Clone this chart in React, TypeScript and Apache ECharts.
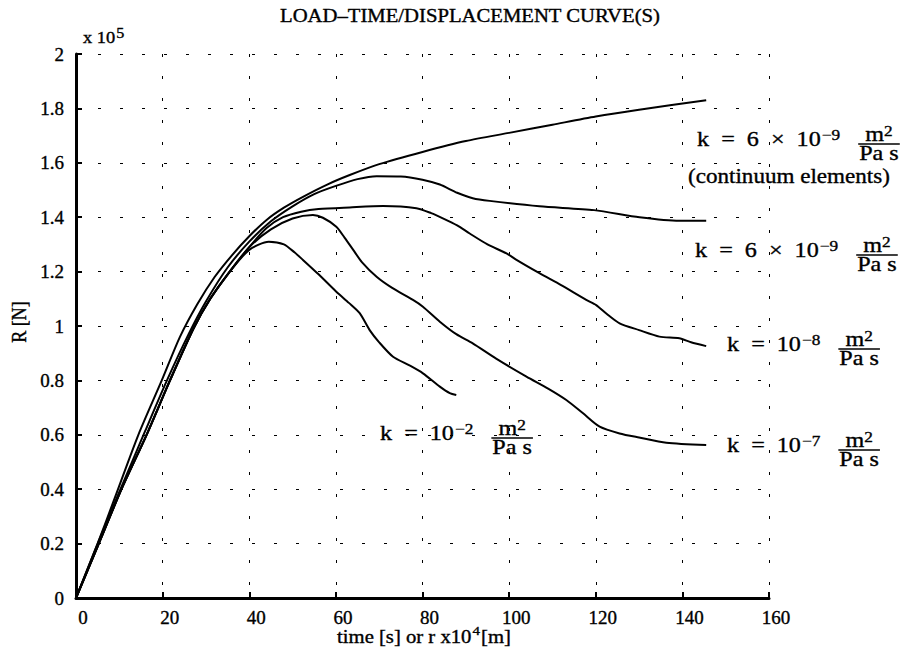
import React, { useEffect, useRef } from "react";
import * as echarts from "echarts";

// ---- data (R in units of 1e5 N, x = time [s] or r x1e4 [m]) ----
const xTicks = [0, 20, 40, 60, 80, 100, 120, 140, 160];
const yTicks = [0, 0.2, 0.4, 0.6, 0.8, 1, 1.2, 1.4, 1.6, 1.8, 2];

const contX = [0, 5, 9, 14.4, 19.8, 24, 28, 32, 36, 40, 44, 48, 52.4, 58, 63.2, 70, 80, 90, 100, 110, 120, 130, 145.5];
const contY = [0, 0.2, 0.37, 0.6, 0.8, 0.96, 1.08, 1.18, 1.26, 1.33, 1.39, 1.435, 1.475, 1.52, 1.555, 1.595, 1.64, 1.68, 1.71, 1.74, 1.77, 1.795, 1.83];

const k69X = [0, 5, 10, 16, 21, 26, 30, 35, 40, 45, 50, 55, 60, 65, 69.4, 75, 80, 84, 88, 91.6, 95.5, 107, 119.6, 130.1, 139.3, 145.5];
const k69Y = [0, 0.2, 0.39, 0.615, 0.8, 0.97, 1.09, 1.215, 1.31, 1.385, 1.44, 1.485, 1.515, 1.54, 1.551, 1.55, 1.538, 1.52, 1.49, 1.47, 1.46, 1.44, 1.426, 1.4, 1.387, 1.387];

const k8X = [0, 5, 10.5, 16.3, 21.7, 27.1, 31, 35.5, 40, 44, 47.8, 52, 56, 63.2, 70.9, 78.6, 82, 84.7, 88, 90.9, 95, 99.4, 101.7, 107, 112, 117.8, 120.1, 122.5, 125.5, 130, 134.7, 139.3, 142, 145.5];
const k8Y = [0, 0.19, 0.4, 0.6, 0.8, 0.99, 1.1, 1.2, 1.29, 1.36, 1.4, 1.42, 1.43, 1.436, 1.441, 1.433, 1.415, 1.396, 1.37, 1.34, 1.3, 1.267, 1.243, 1.194, 1.15, 1.096, 1.077, 1.045, 1.01, 0.985, 0.961, 0.955, 0.94, 0.926];

const k7X = [0, 5, 10.5, 16.3, 21.7, 27.1, 31, 35.5, 40, 45, 50, 54.7, 57, 60.1, 62, 64, 66, 69.4, 73, 77.8, 80.1, 84, 87.8, 91.6, 97, 104, 109, 113.2, 117, 120.9, 125.5, 130, 136.3, 145.5];
const k7Y = [0, 0.19, 0.4, 0.6, 0.8, 0.99, 1.1, 1.2, 1.29, 1.355, 1.395, 1.408, 1.398, 1.365, 1.325, 1.28, 1.235, 1.181, 1.14, 1.096, 1.071, 1.016, 0.97, 0.936, 0.88, 0.814, 0.77, 0.728, 0.68, 0.63, 0.605, 0.59, 0.571, 0.5625];

const k2X = [0, 5, 10.5, 16.3, 21.7, 27.1, 31, 35.5, 40, 44.5, 48, 50.5, 52.4, 56, 60.1, 63, 65.5, 67.8, 70, 73.2, 77, 80.1, 84, 86.3, 87.8];
const k2Y = [0, 0.19, 0.4, 0.6, 0.8, 0.99, 1.1, 1.2, 1.28, 1.31, 1.3, 1.27, 1.243, 1.19, 1.126, 1.085, 1.047, 0.985, 0.94, 0.887, 0.855, 0.826, 0.777, 0.753, 0.746];

const seriesDefs = [
  { name: "k = 6e-9 (continuum elements)", xs: contX, ys: contY },
  { name: "k = 6e-9", xs: k69X, ys: k69Y },
  { name: "k = 1e-8", xs: k8X, ys: k8Y },
  { name: "k = 1e-7", xs: k7X, ys: k7Y },
  { name: "k = 1e-2", xs: k2X, ys: k2Y },
];

const FONT = "Liberation Serif, Times New Roman, serif";
const S = 1.15;

export default function App() {
  const ref = useRef<HTMLDivElement>(null);
  useEffect(() => {
    const cv = document.createElement("canvas").getContext("2d")!;
    const tw = (t: string, size: number) => {
      cv.font = `${size}px ${FONT}`;
      return cv.measureText(t).width * S;
    };
    const txt = (text: string, x: number, y: number, size: number, align = "left", sx = S) => ({
      type: "text",
      x,
      y,
      scaleX: sx,
      silent: true,
      style: {
        text,
        fontSize: size,
        fontFamily: FONT,
        fill: "#000",
        stroke: "#000",
        lineWidth: 0.35,
        align,
        verticalAlign: "middle",
      },
    });

    const kLabel = (kx: number, bar: number, main: string, exp: string) => {
      const F = 21;
      const FS = 15;
      const supX = kx + tw(main, F) + 1;
      const fx = supX + tw(exp, FS) + 18;
      const numW = tw("m", F) + tw("2", FS);
      const denW = tw("Pa s", F);
      const bw = Math.max(numW, denW) + 2;
      const nx = fx + (bw - numW) / 2;
      return [
        txt(main, kx, bar - 5, F),
        txt(exp, supX, bar - 9.5, FS),
        txt("m", nx, bar - 9.5, F),
        txt("2", nx + tw("m", F), bar - 13, FS),
        { type: "line", silent: true, shape: { x1: fx, y1: bar, x2: fx + bw, y2: bar }, style: { stroke: "#000", lineWidth: 1.3 } },
        txt("Pa s", fx + (bw - denW) / 2, bar + 9.5, F),
      ];
    };

    const xnMain = "time [s] or r x10";
    const xnTotal = tw(xnMain, 18) + tw("4", 13) + tw("[m]", 18);
    const xnStart = 423 - xnTotal / 2;

    const graphics: any[] = [
      txt("LOAD–TIME/DISPLACEMENT CURVE(S)", 470, 16, 18, "center"),
      txt("x 10", 83, 37.5, 16),
      txt("5", 83 + tw("x 10", 16) + 1, 33, 14),
      {
        type: "text",
        x: 19,
        y: 322,
        rotation: Math.PI / 2,
        scaleY: S,
        silent: true,
        style: { text: "R [N]", fontSize: 18, fontFamily: FONT, fill: "#000", stroke: "#000", lineWidth: 0.35, align: "center", verticalAlign: "middle" },
      },
      txt(xnMain, xnStart, 637, 18),
      txt("4", xnStart + tw(xnMain, 18) + 1, 631, 13),
      txt("[m]", xnStart + tw(xnMain, 18) + tw("4", 13) + 2, 637, 18),
      ...kLabel(697, 144, "k  =  6  ×  10", "−9"),
      txt("(continuum elements)", 688, 176, 21, "left", 1.1),
      ...kLabel(695, 255, "k  =  6  ×  10", "−9"),
      ...kLabel(727, 349, "k  =  10", "−8"),
      ...kLabel(727, 450, "k  =  10", "−7"),
      ...kLabel(380, 438, "k  =  10", "−2"),
    ];

    const chart = echarts.init(ref.current!, null, { renderer: "svg" });
    const dashed = { color: "#000", width: 1, type: [3, 19] as any };
    const labelStyle = {
      color: "#000",
      fontFamily: FONT,
      fontSize: 19,
      textBorderColor: "#000",
      textBorderWidth: 0.35,
    };
    const option: any = {
      animation: false,
      backgroundColor: "#fff",
      textStyle: { fontFamily: FONT },
      grid: { left: 76, top: 54, right: 141, bottom: 55, containLabel: false, outerBoundsMode: "none" },
      xAxis: {
        type: "value",
        min: xTicks[0],
        max: xTicks[xTicks.length - 1],
        interval: xTicks[1] - xTicks[0],
        axisLine: { show: true, onZero: false, lineStyle: { color: "#000", width: 3 } },
        axisTick: { show: true, inside: true, length: 6, lineStyle: { color: "#000", width: 2 } },
        axisLabel: { ...labelStyle, margin: 10, padding: [0, 0, 0, 14] },
        splitLine: { show: true, showMinLine: false, showMaxLine: true, lineStyle: dashed },
      },
      yAxis: {
        type: "value",
        min: yTicks[0],
        max: yTicks[yTicks.length - 1],
        interval: yTicks[1] - yTicks[0],
        axisLine: { show: true, onZero: false, lineStyle: { color: "#000", width: 3 } },
        axisTick: { show: true, inside: true, length: 6, lineStyle: { color: "#000", width: 2 } },
        axisLabel: {
          ...labelStyle,
          margin: 12,
          padding: [8, 0, 0, 0],
          formatter: (v: number) => String(Math.round(v * 10) / 10),
        },
        splitLine: { show: true, showMinLine: false, showMaxLine: true, lineStyle: dashed },
      },
      series: seriesDefs.map((s) => ({
        name: s.name,
        type: "line",
        data: s.xs.map((x, i) => [x, s.ys[i]]),
        showSymbol: false,
        symbol: "none",
        smooth: 0.25,
        lineStyle: { color: "#000", width: 2 },
      })),
      graphic: graphics,
    };
    chart.setOption(option);
    return () => chart.dispose();
  }, []);
  return (
    <div
      ref={ref}
      style={{ position: "fixed", left: 0, top: 0, width: 910, height: 653, background: "#fff" }}
    />
  );
}
